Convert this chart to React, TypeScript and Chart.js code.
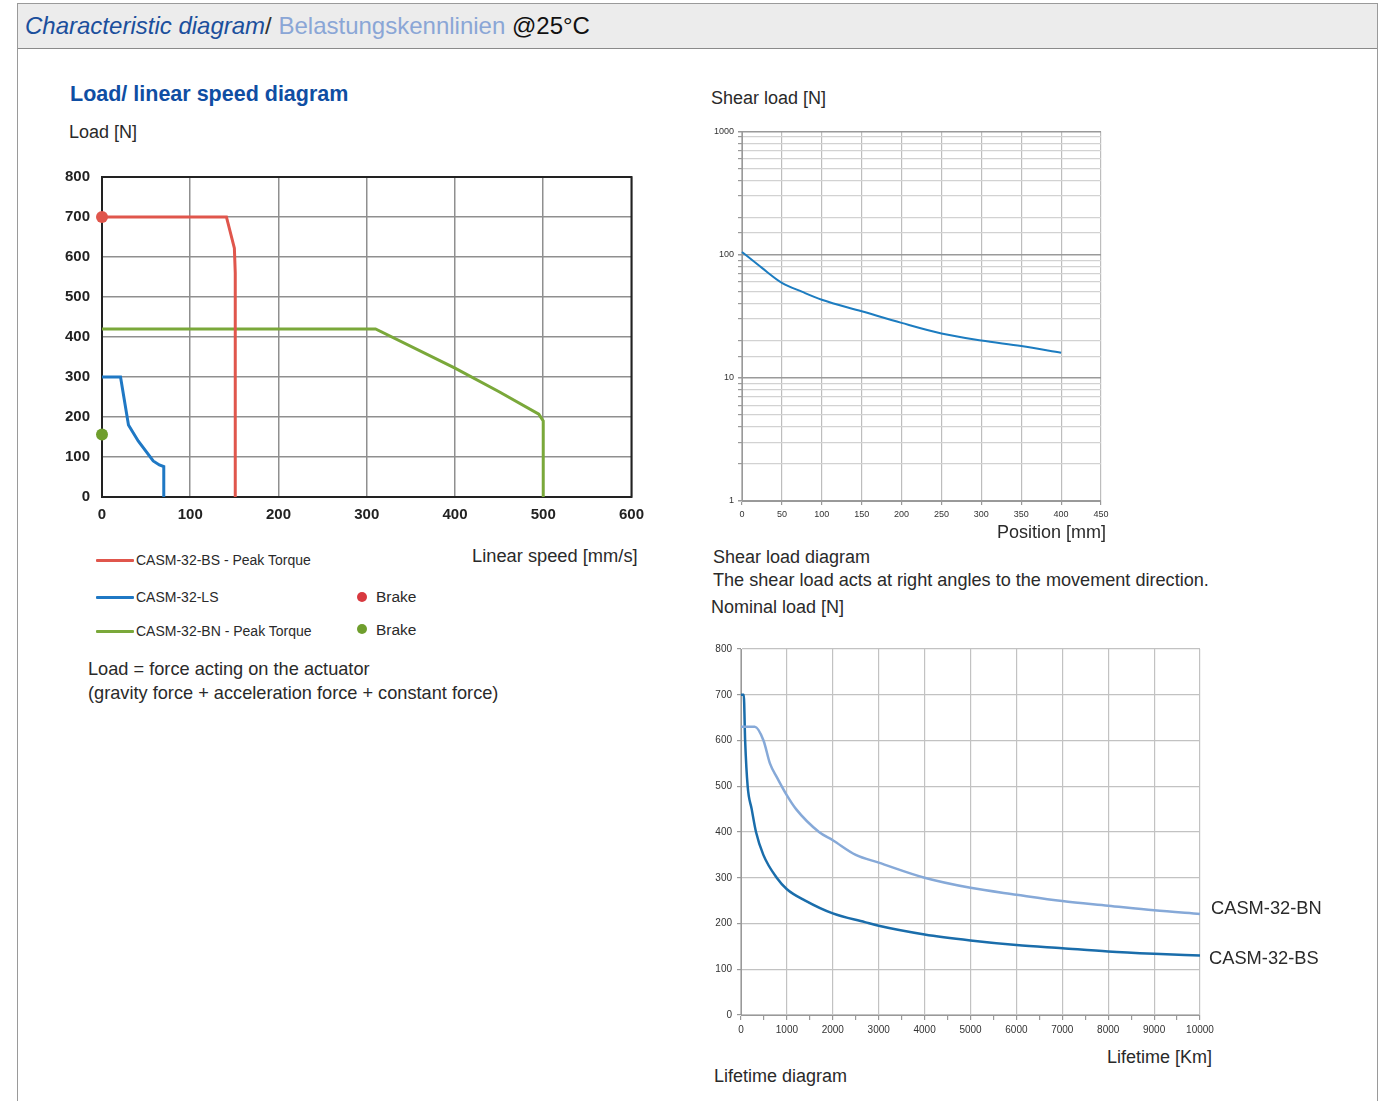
import React, { useEffect, useRef } from 'react';
import { Chart, registerables } from 'chart.js';

Chart.register(...registerables);

// ---------- Load / linear speed diagram ----------
const bsSpeed = [0, 141, 150, 151, 151];
const bsLoad = [700, 700, 622, 560, 0];
const lsSpeed = [0, 21, 30, 41, 58, 65, 70, 70];
const lsLoad = [300, 300, 180, 140, 90, 80, 76, 0];
const bnSpeed = [0, 310, 400, 450, 495, 500, 500];
const bnLoad = [420, 420, 322, 263, 207, 190, 0];
const brakeBsLoad = 700;
const brakeBnLoad = 156;

// ---------- Shear load diagram ----------
const shearPosition = [0, 25, 50, 75, 100, 150, 200, 250, 300, 350, 400];
const shearLoad = [105, 78, 59, 50, 43, 34.7, 27.9, 22.9, 20.1, 18.1, 16.0];
const shearMajorTicks = [1, 10, 100, 1000];

// ---------- Lifetime diagram ----------
const bsLifeKm = [0, 60, 90, 145, 233, 327, 487, 778, 1000, 1400, 2000, 2700, 3000, 4000, 5000, 6000, 7000, 8000, 9000, 10000];
const bsLifeLoad = [700, 700, 600, 500, 450, 400, 350, 300, 275, 250, 222, 203, 195, 176, 163, 153, 146, 139, 134, 130];
const bnLifeKm = [0, 300, 490, 630, 780, 1000, 1200, 1700, 2000, 2500, 3000, 4000, 5000, 6000, 7000, 8000, 9000, 10000];
const bnLifeLoad = [630, 630, 600, 550, 520, 480, 450, 400, 382, 350, 333, 300, 278, 263, 249, 239, 229, 221];

const FONT = '"Liberation Sans", Arial, Helvetica, sans-serif';

const pts = (xs: number[], ys: number[]) => xs.map((x, i) => ({ x, y: ys[i] }));

const frameBorder = {
  id: 'frameBorder',
  beforeDatasetsDraw(chart: any) {
    const o = chart.options.plugins.frameBorder;
    if (!o || !o.enabled) return;
    const { left, top, right, bottom } = chart.chartArea;
    const ctx = chart.ctx;
    ctx.save();
    ctx.strokeStyle = o.color;
    ctx.lineWidth = o.width;
    ctx.strokeRect(left, top, right - left, bottom - top);
    ctx.restore();
  },
};

function ChartBox(props: { left: number; top: number; width: number; height: number; config: () => any }) {
  const ref = useRef<HTMLCanvasElement | null>(null);
  useEffect(() => {
    if (!ref.current) return;
    const chart = new Chart(ref.current, props.config());
    return () => chart.destroy();
  }, []);
  return (
    <div style={{ position: 'absolute', left: props.left, top: props.top, width: props.width, height: props.height }}>
      <canvas ref={ref} width={props.width} height={props.height} style={{ width: props.width, height: props.height }} />
    </div>
  );
}

function T(props: { x: number; base: number; size: number; color?: string; weight?: any; italic?: boolean; children: any }) {
  return (
    <div
      style={{
        position: 'absolute',
        left: props.x,
        top: props.base - 0.905 * props.size,
        fontFamily: FONT,
        fontSize: props.size,
        lineHeight: 'normal',
        color: props.color || '#2a2a2a',
        fontWeight: props.weight || 'normal',
        fontStyle: props.italic ? 'italic' : 'normal',
        whiteSpace: 'nowrap',
      }}
    >
      {props.children}
    </div>
  );
}

const speedConfig = () => ({
  type: 'scatter',
  data: {
    datasets: [
      { data: pts(bsSpeed, bsLoad), showLine: true, borderColor: '#e0564c', borderWidth: 3, pointRadius: 0, tension: 0, clip: false },
      { data: pts(lsSpeed, lsLoad), showLine: true, borderColor: '#1f78c4', borderWidth: 3, pointRadius: 0, tension: 0, clip: false },
      { data: pts(bnSpeed, bnLoad), showLine: true, borderColor: '#7aa83a', borderWidth: 3, pointRadius: 0, tension: 0, clip: false },
      { data: [{ x: 0, y: brakeBsLoad }], showLine: false, pointRadius: 6, backgroundColor: '#e0564c', borderWidth: 0, clip: false },
      { data: [{ x: 0, y: brakeBnLoad }], showLine: false, pointRadius: 6, backgroundColor: '#6f9e2d', borderWidth: 0, clip: false },
    ],
  },
  options: {
    animation: false,
    responsive: false,
    maintainAspectRatio: false,
    layout: { padding: { top: 0, right: 20, left: 0, bottom: 0 } },
    plugins: { legend: { display: false }, tooltip: { enabled: false }, frameBorder: { enabled: true, color: '#222', width: 2 } },
    scales: {
      x: {
        type: 'linear', min: 0, max: 600,
        ticks: { stepSize: 100, padding: 9, color: '#222', font: { family: FONT, size: 15, weight: 'bold' }, maxRotation: 0 },
        grid: { color: '#8f8f8f', lineWidth: 1.5, drawTicks: false },
        border: { display: false },
        afterFit: (s: any) => { s.height = 30; },
      },
      y: {
        type: 'linear', min: 0, max: 800,
        ticks: { stepSize: 100, padding: 12, color: '#222', font: { family: FONT, size: 15, weight: 'bold' } },
        grid: { color: '#8f8f8f', lineWidth: 1.5, drawTicks: false },
        border: { display: false },
        afterFit: (s: any) => { s.width = 50; },
      },
    },
  },
  plugins: [frameBorder],
});

const isMajorLog = (v: number) => shearMajorTicks.some((m) => Math.abs(m - v) < 1e-9);

const shearConfig = () => ({
  type: 'scatter',
  data: {
    datasets: [
      { data: pts(shearPosition, shearLoad), showLine: true, borderColor: '#1c7cc0', borderWidth: 2, pointRadius: 0, cubicInterpolationMode: 'monotone', clip: false },
    ],
  },
  options: {
    animation: false,
    responsive: false,
    maintainAspectRatio: false,
    layout: { padding: { top: 0, right: 15, left: 0, bottom: 0 } },
    plugins: { legend: { display: false }, tooltip: { enabled: false } },
    scales: {
      x: {
        type: 'linear', min: 0, max: 450,
        ticks: { stepSize: 50, padding: 4, color: '#333', font: { family: FONT, size: 9 }, maxRotation: 0 },
        grid: { color: '#bdbdbd', lineWidth: 1.2, drawTicks: true, tickLength: 4, tickColor: '#999' },
        border: { color: '#999' },
        afterFit: (s: any) => { s.height = 22; },
      },
      y: {
        type: 'logarithmic', min: 1, max: 1000,
        ticks: {
          autoSkip: false, padding: 4, color: '#333', font: { family: FONT, size: 9 },
          callback: (v: any) => (isMajorLog(Number(v)) ? String(v) : ''),
        },
        grid: {
          color: (c: any) => (c.tick && isMajorLog(c.tick.value) ? '#9a9a9a' : '#d2d2d2'),
          lineWidth: (c: any) => (c.tick && isMajorLog(c.tick.value) ? 1.5 : 1.2),
          drawTicks: true, tickLength: 4, tickColor: '#999',
        },
        border: { color: '#999' },
        afterFit: (s: any) => { s.width = 40; },
      },
    },
  },
});

const lifeConfig = () => ({
  type: 'scatter',
  data: {
    datasets: [
      { data: pts(bnLifeKm, bnLifeLoad), showLine: true, borderColor: '#86a9d8', borderWidth: 2.5, pointRadius: 0, cubicInterpolationMode: 'monotone', clip: false },
      { data: pts(bsLifeKm, bsLifeLoad), showLine: true, borderColor: '#1a6dab', borderWidth: 2.5, pointRadius: 0, cubicInterpolationMode: 'monotone', clip: false },
    ],
  },
  options: {
    animation: false,
    responsive: false,
    maintainAspectRatio: false,
    layout: { padding: { top: 10, right: 20, left: 0, bottom: 0 } },
    plugins: { legend: { display: false }, tooltip: { enabled: false } },
    scales: {
      x: {
        type: 'linear', min: 0, max: 10000,
        ticks: {
          stepSize: 500, autoSkip: false, padding: 4, color: '#333', font: { family: FONT, size: 10 }, maxRotation: 0,
          callback: (v: any) => (Number(v) % 1000 === 0 ? String(v) : ''),
        },
        grid: {
          color: (c: any) => (c.tick && c.tick.value % 1000 !== 0 ? 'rgba(0,0,0,0)' : '#c2c2c2'),
          lineWidth: 1.2, drawTicks: true, tickLength: 5, tickColor: '#999',
        },
        border: { color: '#999' },
        afterFit: (s: any) => { s.height = 22; },
      },
      y: {
        type: 'linear', min: 0, max: 800,
        ticks: { stepSize: 100, padding: 5, color: '#333', font: { family: FONT, size: 10 } },
        grid: { color: '#c2c2c2', lineWidth: 1.2, drawTicks: true, tickLength: 4, tickColor: '#999' },
        border: { color: '#999' },
        afterFit: (s: any) => { s.width = 40; },
      },
    },
  },
});

function LegendLine(props: { y: number; color: string }) {
  return <div style={{ position: 'absolute', left: 96, top: props.y - 1.5, width: 38, height: 3, background: props.color, borderRadius: 1 }} />;
}
function Dot(props: { x: number; y: number; color: string }) {
  return <div style={{ position: 'absolute', left: props.x - 5, top: props.y - 5, width: 10, height: 10, borderRadius: 5, background: props.color }} />;
}

export default function App() {
  return (
    <div style={{ position: 'absolute', left: 0, top: 0, width: 1382, height: 1101, overflow: 'hidden', background: '#fff' }}>
      {/* frame */}
      <div style={{ position: 'absolute', left: 17, top: 3, width: 1359, height: 1120, borderLeft: '1px solid #9a9a9a', borderRight: '1px solid #9a9a9a', borderTop: '1px solid #9a9a9a' }} />
      <div style={{ position: 'absolute', left: 18, top: 4, width: 1359, height: 44, background: '#ececec', borderBottom: '1px solid #8a8a8a' }} />
      <div
        style={{ position: 'absolute', left: 25, top: 34 - 0.905 * 24, fontFamily: FONT, fontSize: 24, lineHeight: 'normal', whiteSpace: 'nowrap' }}
      >
        <span style={{ color: '#1b4f9c', fontStyle: 'italic' }}>Characteristic diagram</span>
        <span style={{ color: '#333' }}>/ </span>
        <span style={{ color: '#8aa6d6' }}>Belastungskennlinien </span>
        <span style={{ color: '#111' }}>@25°C</span>
      </div>

      {/* Left: load / linear speed */}
      <T x={70} base={101} size={21.5} color="#0f4ea3" weight="bold">Load/ linear speed diagram</T>
      <T x={69} base={138} size={18}>Load [N]</T>
      <ChartBox left={52} top={156} width={601} height={371} config={speedConfig} />
      <T x={472} base={562} size={18.3}>Linear speed [mm/s]</T>

      <LegendLine y={560} color="#e0564c" />
      <T x={136} base={565} size={14}>CASM-32-BS - Peak Torque</T>
      <LegendLine y={597} color="#1f78c4" />
      <T x={136} base={602} size={14}>CASM-32-LS</T>
      <LegendLine y={631} color="#7aa83a" />
      <T x={136} base={636} size={14}>CASM-32-BN - Peak Torque</T>
      <Dot x={362} y={597} color="#d8393f" />
      <T x={376} base={602} size={15.5}>Brake</T>
      <Dot x={362} y={629} color="#6f9e2d" />
      <T x={376} base={635} size={15.5}>Brake</T>

      <T x={88} base={675} size={18.2}>Load = force acting on the actuator</T>
      <T x={88} base={699} size={18.2}>(gravity force + acceleration force + constant force)</T>

      {/* Right top: shear load */}
      <T x={711} base={104} size={18}>Shear load [N]</T>
      <ChartBox left={702} top={122} width={414} height={401} config={shearConfig} />
      <T x={997} base={538} size={18}>Position [mm]</T>
      <T x={713} base={563} size={18}>Shear load diagram</T>
      <T x={713} base={586} size={18.1}>The shear load acts at right angles to the movement direction.</T>
      <T x={711} base={613} size={18}>Nominal load [N]</T>

      {/* Right bottom: lifetime */}
      <ChartBox left={701} top={638} width={519} height={399} config={lifeConfig} />
      <T x={1211} base={914} size={18.3}>CASM-32-BN</T>
      <T x={1209} base={964} size={18.3}>CASM-32-BS</T>
      <T x={1107} base={1063} size={18}>Lifetime [Km]</T>
      <T x={714} base={1082} size={18}>Lifetime diagram</T>
    </div>
  );
}
